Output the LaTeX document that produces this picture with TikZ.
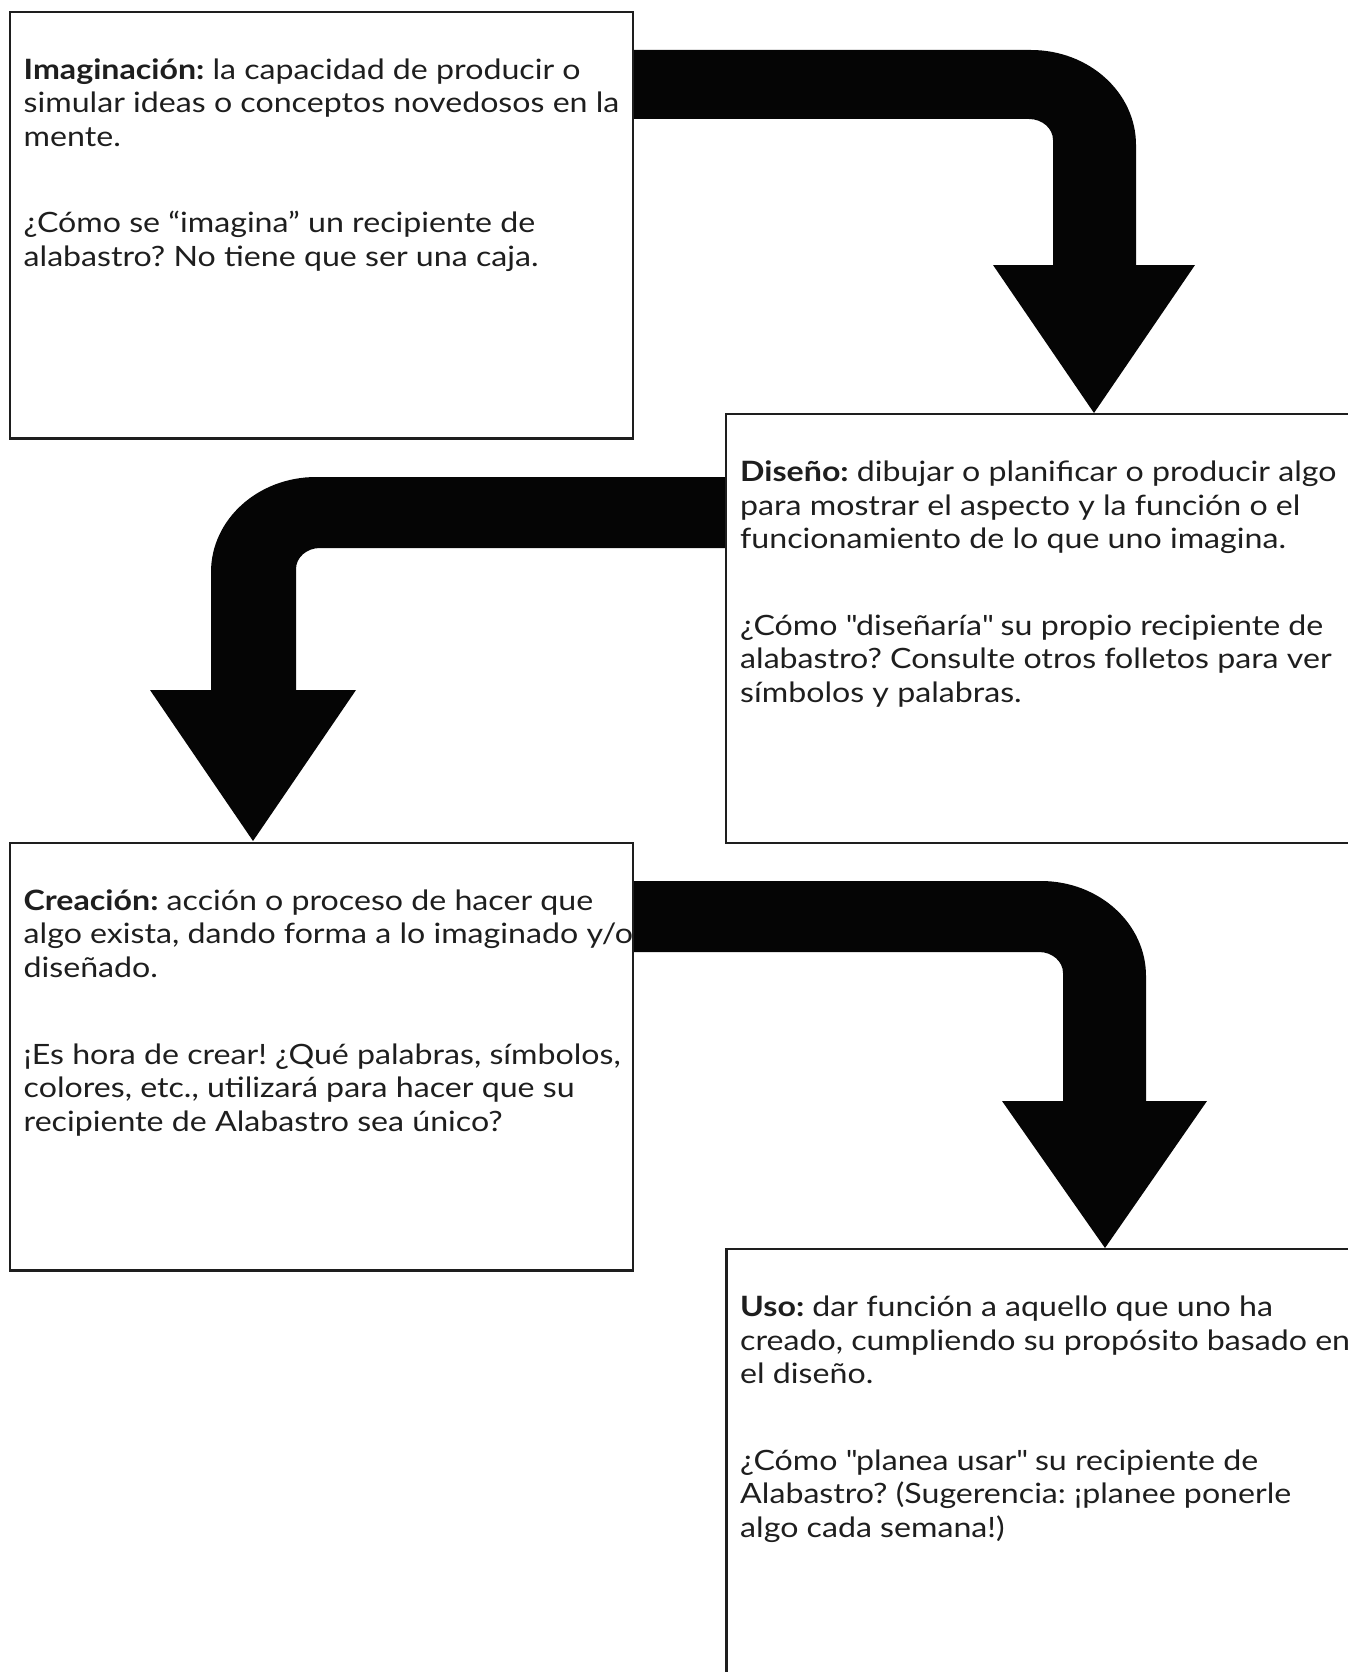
\documentclass[tikz,border=0pt]{standalone}
\usepackage{fontspec}
\setmainfont{Lato}[FakeStretch=1.148]
\definecolor{ink}{HTML}{1E1E1E}
\definecolor{arrowink}{HTML}{050505}
\newcommand{\dq}{\textquotedbl}
\begin{document}
\frenchspacing
\begin{tikzpicture}[x=1pt,y=1pt,
  box/.style={draw=ink,line width=2.3pt,fill=none,inner sep=0,anchor=north west},
  txt/.style={anchor=base west,inner sep=0,text=ink,font=\fontsize{28}{33}\selectfont},
  bigarrow/.style={fill=arrowink,draw=none}]
\useasboundingbox (0,0) rectangle (1348,-1672);
\clip (0,0) rectangle (1348,-1672);
% arrows
\fill[bigarrow] (632,-50) -- (1031,-50)
  arc[start angle=90,end angle=0,x radius=105,y radius=95]
  -- (1136,-265) -- (1195,-265) -- (1094,-413) -- (993,-265) -- (1053,-265)
  -- (1053,-140) arc[start angle=0,end angle=90,x radius=24,y radius=21]
  -- (632,-119) -- cycle;
\fill[bigarrow] (726,-477) -- (316,-477)
  arc[start angle=90,end angle=180,x radius=105,y radius=95]
  -- (211,-690) -- (150,-690) -- (253,-841) -- (356,-690) -- (296,-690)
  -- (296,-569) arc[start angle=180,end angle=90,x radius=24,y radius=21]
  -- (726,-548) -- cycle;
\fill[bigarrow] (632,-881) -- (1041,-881)
  arc[start angle=90,end angle=0,x radius=105,y radius=95]
  -- (1146,-1101) -- (1207,-1101) -- (1105,-1248) -- (1002,-1101) -- (1063,-1101)
  -- (1063,-973) arc[start angle=0,end angle=90,x radius=24,y radius=21]
  -- (632,-952) -- cycle;
% boxes
\node[box,minimum width=623.5pt,minimum height=426.6pt] (b1) at (8.5,-10.7) {};
\node[box,minimum width=630pt,minimum height=428.8pt] (b2) at (725,-412.7) {};
\node[box,minimum width=623.5pt,minimum height=427.8pt] (b3) at (8.5,-841.5) {};
\node[box,minimum width=630pt,minimum height=430pt] (b4) at (725.3,-1248) {};
% box 1 text
\node[txt] (t1a) at (23.5,-79.5) {\textbf{Imaginación:} la capacidad de producir o};
\node[txt] (t1b) at (23.5,-113) {simular ideas o conceptos novedosos en la};
\node[txt] (t1c) at (23.5,-146.5) {mente.};
\node[txt] (t1d) at (23.5,-233) {¿Cómo se “imagina” un recipiente de};
\node[txt] (t1e) at (23.5,-266.5) {alabastro? No tiene que ser una caja.};
% box 2 text
\node[txt] (t2a) at (740,-481.5) {\textbf{Diseño:} dibujar o planificar o producir algo};
\node[txt] (t2b) at (740,-515) {para mostrar el aspecto y la función o el};
\node[txt] (t2c) at (740,-548.5) {funcionamiento de lo que uno imagina.};
\node[txt] (t2d) at (740,-635) {¿Cómo \dq diseñaría\dq{} su propio recipiente de};
\node[txt] (t2e) at (740,-668.5) {alabastro? Consulte otros folletos para ver};
\node[txt] (t2f) at (740,-702) {símbolos y palabras.};
% box 3 text
\node[txt] (t3a) at (23.5,-910) {\textbf{Creación:} acción o proceso de hacer que};
\node[txt] (t3b) at (23.5,-943.5) {algo exista, dando forma a lo imaginado y/o};
\node[txt] (t3c) at (23.5,-977) {diseñado.};
\node[txt] (t3d) at (23.5,-1064) {¡Es hora de crear! ¿Qué palabras, símbolos,};
\node[txt] (t3e) at (23.5,-1097.5) {colores, etc., utilizará para hacer que su};
\node[txt] (t3f) at (23.5,-1131) {recipiente de Alabastro sea único?};
% box 4 text
\node[txt] (t4a) at (740,-1316.5) {\textbf{Uso:} dar función a aquello que uno ha};
\node[txt] (t4b) at (740,-1350) {creado, cumpliendo su propósito basado en};
\node[txt] (t4c) at (740,-1383.5) {el diseño.};
\node[txt] (t4d) at (740,-1470) {¿Cómo \dq planea usar\dq{} su recipiente de};
\node[txt] (t4e) at (740,-1503.5) {Alabastro? (Sugerencia: ¡planee ponerle};
\node[txt] (t4f) at (740,-1537) {algo cada semana!)};
\end{tikzpicture}
\end{document}
